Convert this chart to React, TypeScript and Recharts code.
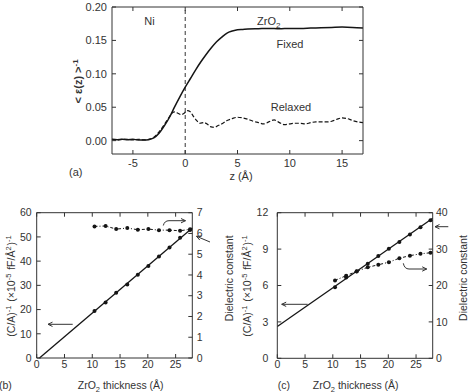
import React from 'react';
import { ComposedChart, Line, XAxis, YAxis, ReferenceLine } from 'recharts';

// (a) inverse dielectric profile across the Ni / ZrO2 interface
const fixedZ = [-7, -6.5, -6, -5.5, -5, -4.5, -4, -3.5, -3, -2.5, -2, -1.5, -1, -0.5, 0, 0.5, 1, 1.5, 2, 2.5, 3, 3.5, 4, 4.5, 5, 5.5, 6, 7, 8, 9, 10, 11, 12, 13, 14, 15, 16, 17];
const fixedEps = [0.002, 0.0015, 0.002, 0.0015, 0.002, 0.001, 0.001, 0.0015, 0.004, 0.011, 0.022, 0.035, 0.051, 0.066, 0.08, 0.093, 0.106, 0.118, 0.129, 0.139, 0.148, 0.155, 0.161, 0.164, 0.166, 0.1665, 0.167, 0.1675, 0.168, 0.1675, 0.168, 0.168, 0.1685, 0.169, 0.1695, 0.17, 0.1695, 0.1685];
const relaxedZ = [-7, -6.5, -6, -5.5, -5, -4.5, -4, -3.5, -3, -2.5, -2, -1.5, -1.2, -1, -0.7, -0.4, -0.1, 0.2, 0.5, 0.8, 1.1, 1.4, 1.8, 2.1, 2.4, 2.8, 3.2, 3.6, 4, 4.5, 5, 5.5, 6, 6.5, 7, 7.5, 8, 8.5, 9, 9.5, 10, 10.5, 11, 11.5, 12, 12.5, 13, 13.5, 14, 14.5, 15, 15.5, 16, 16.5, 17];
const relaxedEps = [0.002, 0.001, 0.002, 0.002, 0.001, 0.002, 0.001, 0.002, 0.005, 0.013, 0.024, 0.036, 0.042, 0.043, 0.041, 0.039, 0.041, 0.045, 0.043, 0.036, 0.03, 0.026, 0.027, 0.025, 0.021, 0.02, 0.023, 0.026, 0.03, 0.033, 0.035, 0.034, 0.032, 0.029, 0.027, 0.025, 0.028, 0.031, 0.027, 0.024, 0.025, 0.026, 0.026, 0.025, 0.027, 0.028, 0.028, 0.028, 0.029, 0.032, 0.034, 0.033, 0.03, 0.028, 0.027];
const interfaceZ = 0;
const zDomain = [-7, 17];
const zTicks = [-5, 0, 5, 10, 15];
const epsDomain = [-0.02, 0.2];
const epsTicks = [0, 0.05, 0.1, 0.15, 0.2];

// (b) and (c): inverse capacitance and dielectric constant vs film thickness
const thickness = [10.4, 12.4, 14.3, 16.3, 18.2, 20.1, 22.0, 23.9, 25.8, 27.6];
const thickTicks = [0, 5, 10, 15, 20, 25];

const invCapB = [19.4, 22.9, 26.9, 30.3, 34.4, 38.0, 41.9, 45.6, 49.7, 52.9];
const dielB = [6.34, 6.36, 6.21, 6.26, 6.18, 6.21, 6.16, 6.16, 6.13, 6.2];
const fitTB = [0.5, 28];
const fitVB = [0, 53.7];
const invCapTicksB = [0, 10, 20, 30, 40, 50, 60];
const dielTicksB = [0, 1, 2, 3, 4, 5, 6, 7];

const invCapC = [5.85, 6.65, 7.15, 7.8, 8.43, 9.02, 9.58, 10.2, 10.8, 11.38];
const dielC = [21.4, 22.7, 23.9, 25.0, 25.7, 26.4, 27.5, 28.2, 28.7, 29.0];
const fitTC = [0, 28];
const fitVC = [2.62, 11.55];
const invCapTicksC = [0, 3, 6, 9, 12];
const dielTicksC = [0, 10, 20, 30, 40];

const INK = '#333';
const LINE = '#151515';
const FONT = '"Liberation Sans", Arial, Helvetica, sans-serif';

const pairs = (xs: number[], ys: number[]) => xs.map((t, i) => ({ t, v: ys[i] }));
const blank = () => '';

function ProfilePanel() {
  return (
    <ComposedChart width={400} height={190} margin={{ top: 6, right: 36, bottom: 6, left: 52 }}>
      <XAxis xAxisId="b" dataKey="t" type="number" domain={zDomain} ticks={zTicks} interval={0}
        height={30} tickSize={-4} tickMargin={9.5} stroke={INK} tick={{ fill: INK, fontSize: 11 }} />
      <XAxis xAxisId="t" orientation="top" dataKey="t" type="number" domain={zDomain} ticks={zTicks}
        interval={0} height={1} tickSize={-4} tickFormatter={blank} stroke={INK} />
      <YAxis yAxisId="l" type="number" domain={epsDomain} ticks={epsTicks} interval={0} width={60}
        tickSize={-4} tickMargin={9} stroke={INK} tick={{ fill: INK, fontSize: 11 }}
        tickFormatter={(v: number) => v.toFixed(2)} />
      <YAxis yAxisId="r" orientation="right" type="number" domain={epsDomain} ticks={epsTicks}
        interval={0} width={1} tickSize={-4} tickFormatter={blank} stroke={INK} />
      <ReferenceLine xAxisId="b" yAxisId="l" x={interfaceZ} stroke={INK} strokeDasharray="4 3" />
      <Line xAxisId="b" yAxisId="l" data={pairs(fixedZ, fixedEps)} dataKey="v" type="monotone"
        stroke={LINE} strokeWidth={1.5} dot={false} isAnimationActive={false} />
      <Line xAxisId="t" yAxisId="r" data={pairs(relaxedZ, relaxedEps)} dataKey="v" type="monotone"
        stroke={LINE} strokeWidth={1.2} strokeDasharray="4 2" dot={false} isAnimationActive={false} />
    </ComposedChart>
  );
}

interface ThicknessProps {
  width: number;
  margin: { top: number; right: number; bottom: number; left: number };
  invCap: number[];
  diel: number[];
  fitT: number[];
  fitV: number[];
  leftTicks: number[];
  rightTicks: number[];
  leftGap: number;
  rightGap: number;
}

function ThicknessPanel(p: ThicknessProps) {
  const leftDomain = [0, p.leftTicks[p.leftTicks.length - 1]];
  const rightDomain = [0, p.rightTicks[p.rightTicks.length - 1]];
  const tick = { fill: INK, fontSize: 10.5 };
  const dot = { r: 2, fill: LINE, stroke: 'none' };
  return (
    <ComposedChart width={p.width} height={192} margin={p.margin}>
      <XAxis xAxisId="b" dataKey="t" type="number" domain={[0, 28]} ticks={thickTicks} interval={0}
        height={20} tickSize={-4} tickMargin={6.7} stroke={INK} tick={tick} />
      <XAxis xAxisId="t" orientation="top" dataKey="t" type="number" domain={[0, 28]} ticks={thickTicks}
        interval={0} height={1} tickSize={-4} tickFormatter={blank} stroke={INK} />
      <YAxis yAxisId="l" type="number" domain={leftDomain} ticks={p.leftTicks} interval={0} width={30}
        tickSize={-4} tickMargin={p.leftGap} stroke={INK} tick={tick} />
      <YAxis yAxisId="r" orientation="right" type="number" domain={rightDomain} ticks={p.rightTicks}
        interval={0} width={30} tickSize={-4} tickMargin={p.rightGap} stroke={INK} tick={tick} />
      <Line xAxisId="b" yAxisId="l" data={pairs(p.fitT, p.fitV)} dataKey="v" type="linear"
        stroke={LINE} strokeWidth={1.3} dot={false} isAnimationActive={false} />
      <Line xAxisId="b" yAxisId="l" data={pairs(thickness, p.invCap)} dataKey="v" type="linear"
        stroke="none" dot={dot} isAnimationActive={false} />
      <Line xAxisId="t" yAxisId="r" data={pairs(thickness, p.diel)} dataKey="v" type="linear"
        stroke={LINE} strokeWidth={1} strokeDasharray="3 2 1 2" dot={dot} isAnimationActive={false} />
    </ComposedChart>
  );
}

const Sup = ({ children }: { children: string }) => (
  <>
    <tspan dy={-4} fontSize="0.72em">{children}</tspan>
    <tspan dy={4}>{'\u200a'}</tspan>
  </>
);

function Arrow({ d, tip, dir }: { d: string; tip: [number, number]; dir: number }) {
  const [x, y] = tip;
  const a = (dir * Math.PI) / 180;
  const back = (s: number) => [x - 5 * Math.cos(a + s), y - 5 * Math.sin(a + s)];
  const [x1, y1] = back(0.45);
  const [x2, y2] = back(-0.45);
  return (
    <g stroke={INK} strokeWidth={1} fill="none">
      <path d={d} />
      <path d={`M${x1},${y1} L${x},${y} L${x2},${y2}`} />
    </g>
  );
}

function Annotations() {
  return (
    <svg width={469} height={392} style={{ position: 'absolute', left: 0, top: 0, pointerEvents: 'none' }}
      fontFamily={FONT} fill={INK}>
      {/* panel (a) */}
      <text x={149.5} y={25} fontSize={11} textAnchor="middle">Ni</text>
      <text x={257} y={25} fontSize={11}>ZrO<tspan dy={3} fontSize={8}>2</tspan></text>
      <text x={290} y={48} fontSize={11} textAnchor="middle">Fixed</text>
      <text x={291} y={110.5} fontSize={11} textAnchor="middle">Relaxed</text>
      <text x={69} y={176} fontSize={11}>(a)</text>
      <text x={241} y={180} fontSize={11} textAnchor="middle">z (Å)</text>
      <text x={81.5} y={81} fontSize={11} fontWeight="bold" textAnchor="middle"
        transform="rotate(-90 81.5 81)">{'< ε(z) >'}<Sup>-1</Sup></text>

      {/* panel (b) */}
      <text x={-1} y={389} fontSize={10.5}>(b)</text>
      <text x={120.7} y={389} fontSize={10.5} textAnchor="middle">
        ZrO<tspan dy={2.5} fontSize={7.5}>2</tspan><tspan dy={-2.5}> thickness (Å)</tspan>
      </text>
      <text x={15} y={285.5} fontSize={10.5} textAnchor="middle" transform="rotate(-90 15 285.5)">
        (C/A)<Sup>-1</Sup>{'  (×10'}<Sup>-5</Sup>{' fF/Å'}<Sup>2</Sup>{')'}<Sup>-1</Sup>
      </text>
      <text x={233} y={278.3} fontSize={10.5} textAnchor="middle" transform="rotate(-90 233 278.3)">
        Dielectric constant
      </text>
      <Arrow d="M72.7,324.3 L48,324.3" tip={[48, 324.3]} dir={180} />
      <Arrow d="M163.3,225.5 Q164.5,220.7 169,220.7 L185.5,220.7" tip={[185.5, 220.7]} dir={0} />
      <Arrow d="M210,242 L196.5,236.3" tip={[196.5, 236.3]} dir={203} />

      {/* panel (c) */}
      <text x={277.7} y={389} fontSize={10.5}>(c)</text>
      <text x={355.7} y={389} fontSize={10.5} textAnchor="middle">
        ZrO<tspan dy={2.5} fontSize={7.5}>2</tspan><tspan dy={-2.5}> thickness (Å)</tspan>
      </text>
      <text x={251} y={285.5} fontSize={10.5} textAnchor="middle" transform="rotate(-90 251 285.5)">
        (C/A)<Sup>-1</Sup>{'  (×10'}<Sup>-5</Sup>{' fF/Å'}<Sup>2</Sup>{')'}<Sup>-1</Sup>
      </text>
      <text x={466.5} y={278} fontSize={10.5} textAnchor="middle" transform="rotate(-90 466.5 278)">
        Dielectric constant
      </text>
      <Arrow d="M307.7,304.3 L281.7,304.3" tip={[281.7, 304.3]} dir={180} />
      <Arrow d="M448.3,226.7 L435,226.7" tip={[435, 226.7]} dir={180} />
      <Arrow d="M403.3,263.3 Q404.5,269 409,269 L426.7,269" tip={[426.7, 269]} dir={0} />
    </svg>
  );
}

export default function App() {
  return (
    <div style={{ position: 'absolute', left: 0, top: 0, width: 469, height: 392, background: '#fff', fontFamily: FONT, overflow: 'hidden' }}>
      <div style={{ position: 'absolute', left: 0, top: 0 }}>
        <ProfilePanel />
      </div>
      <div style={{ position: 'absolute', left: 0, top: 200 }}>
        <ThicknessPanel width={240} margin={{ top: 11.7, right: 17.7, bottom: 14, left: 6.7 }}
          invCap={invCapB} diel={dielB} fitT={fitTB} fitV={fitVB}
          leftTicks={invCapTicksB} rightTicks={dielTicksB} leftGap={9} rightGap={8.4} />
      </div>
      <div style={{ position: 'absolute', left: 240, top: 200 }}>
        <ThicknessPanel width={229} margin={{ top: 11.7, right: 6.3, bottom: 13.7, left: 7.3 }}
          invCap={invCapC} diel={dielC} fitT={fitTC} fitV={fitVC}
          leftTicks={invCapTicksC} rightTicks={dielTicksC} leftGap={13} rightGap={7.3} />
      </div>
      <Annotations />
    </div>
  );
}
